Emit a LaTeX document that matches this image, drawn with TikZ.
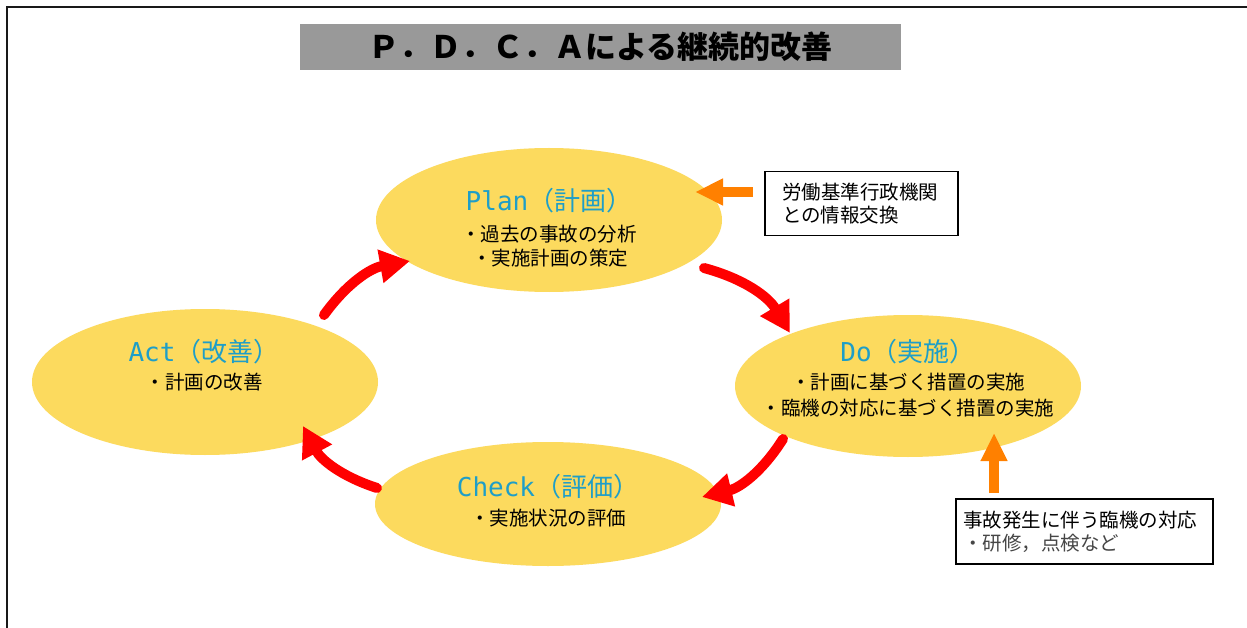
\documentclass[tikz,border=0pt]{standalone}
\usepackage{fontspec}
\setmainfont{Noto Sans CJK JP}
\newfontfamily\latmono{DejaVu Sans Mono}
\usetikzlibrary{arrows.meta,shapes.geometric}
\definecolor{ellfill}{RGB}{252,218,94}
\definecolor{ttlblue}{RGB}{30,158,200}
\definecolor{arrred}{RGB}{255,0,0}
\definecolor{arrorange}{RGB}{255,128,0}
\definecolor{titlegray}{RGB}{153,153,153}
\definecolor{subgray}{RGB}{70,70,70}
\begin{document}
\begin{tikzpicture}[x=1pt,y=-1pt,
  phase/.style={ellipse, fill=ellfill, inner sep=0pt, minimum width=346pt},
  phasetitle/.style={text=ttlblue, font=\fontsize{26}{28}\selectfont, inner sep=0pt},
  phasetext/.style={font=\fontsize{19.5}{25}\selectfont, inner sep=0pt},
  cyclearrow/.style={draw=arrred, line width=10pt, line cap=round, -{Triangle[length=30pt,width=32pt]}},
  infoarrow/.style={draw=arrorange, line width=10pt, -{Triangle[length=28pt,width=25pt]}},
  infobox/.style={draw=black, line width=1.2pt, fill=white, inner sep=0pt, align=left, font=\fontsize{19.5}{23}\selectfont}
]
\useasboundingbox (0,0) rectangle (1247,628);
\fill[white] (0,0) rectangle (1247,628);
% outer frame
\draw[line width=2pt, black!90] (7,640) -- (7,7) -- (1260,7);
% title
\node[fill=titlegray, minimum width=601pt, minimum height=46pt, inner sep=0pt,
      font=\fontsize{31}{31}\selectfont\bfseries] (title) at (600.5,47) {Ｐ．Ｄ．Ｃ．Ａによる継続的改善};
% ellipses
\node[phase, minimum height=144pt] (plan) at (549,220) {};
\node[phase, minimum height=146pt] (act) at (205,382) {};
\node[phase, minimum height=142pt] (do) at (908,386) {};
\node[phase, minimum height=124pt] (check) at (548,504) {};
% texts
\node[phasetitle] (plant) at (549,201) {{\latmono Plan}（計画）};
\node[phasetext] (plan1) at (549,234) {・過去の事故の分析};
\node[phasetext] (plan2) at (550,258) {・実施計画の策定};
\node[phasetitle] (actt) at (204,352) {{\latmono Act}（改善）};
\node[phasetext] (act1) at (204,382) {・計画の改善};
\node[phasetitle] (dot) at (908,352) {{\latmono Do}（実施）};
\node[phasetext] (do1) at (908,382) {・計画に基づく措置の実施};
\node[phasetext] (do2) at (908,408) {・臨機の対応に基づく措置の実施};
\node[phasetitle] (checkt) at (548,487) {{\latmono Check}（評価）};
\node[phasetext] (check1) at (548,518) {・実施状況の評価};
% info boxes
\node[infobox, minimum width=193pt, minimum height=64pt, text width=159pt] (box1) at (861.5,203.5)
  {労働基準行政機関\\との情報交換};
\node[infobox, minimum width=257pt, minimum height=65pt, text width=243pt] (box2) at (1084.5,531.5)
  {事故発生に伴う臨機の対応\\\textcolor{subgray}{・研修，点検など}};
% arrow end points
\coordinate (a1s) at (324,315);
\coordinate (a1e) at (410,261);
\coordinate (a2s) at (704,268);
\coordinate (a2e) at (790,333);
\coordinate (a3s) at (783,439);
\coordinate (a3e) at (702,497);
\coordinate (a4s) at (377,488);
\coordinate (a4e) at (303,426);
\draw[cyclearrow] (a1s) to[bend left=22] (a1e);
\draw[cyclearrow] (a2s) to[bend left=22] (a2e);
\draw[cyclearrow] (a3s) to[bend left=22] (a3e);
\draw[cyclearrow] (a4s) to[bend left=22] (a4e);
\coordinate (o1s) at (753,192);
\coordinate (o1e) at (695,192);
\coordinate (o2s) at (994,493);
\coordinate (o2e) at (994,433);
\draw[infoarrow] (o1s) -- (o1e);
\draw[infoarrow] (o2s) -- (o2e);
\end{tikzpicture}
\end{document}
